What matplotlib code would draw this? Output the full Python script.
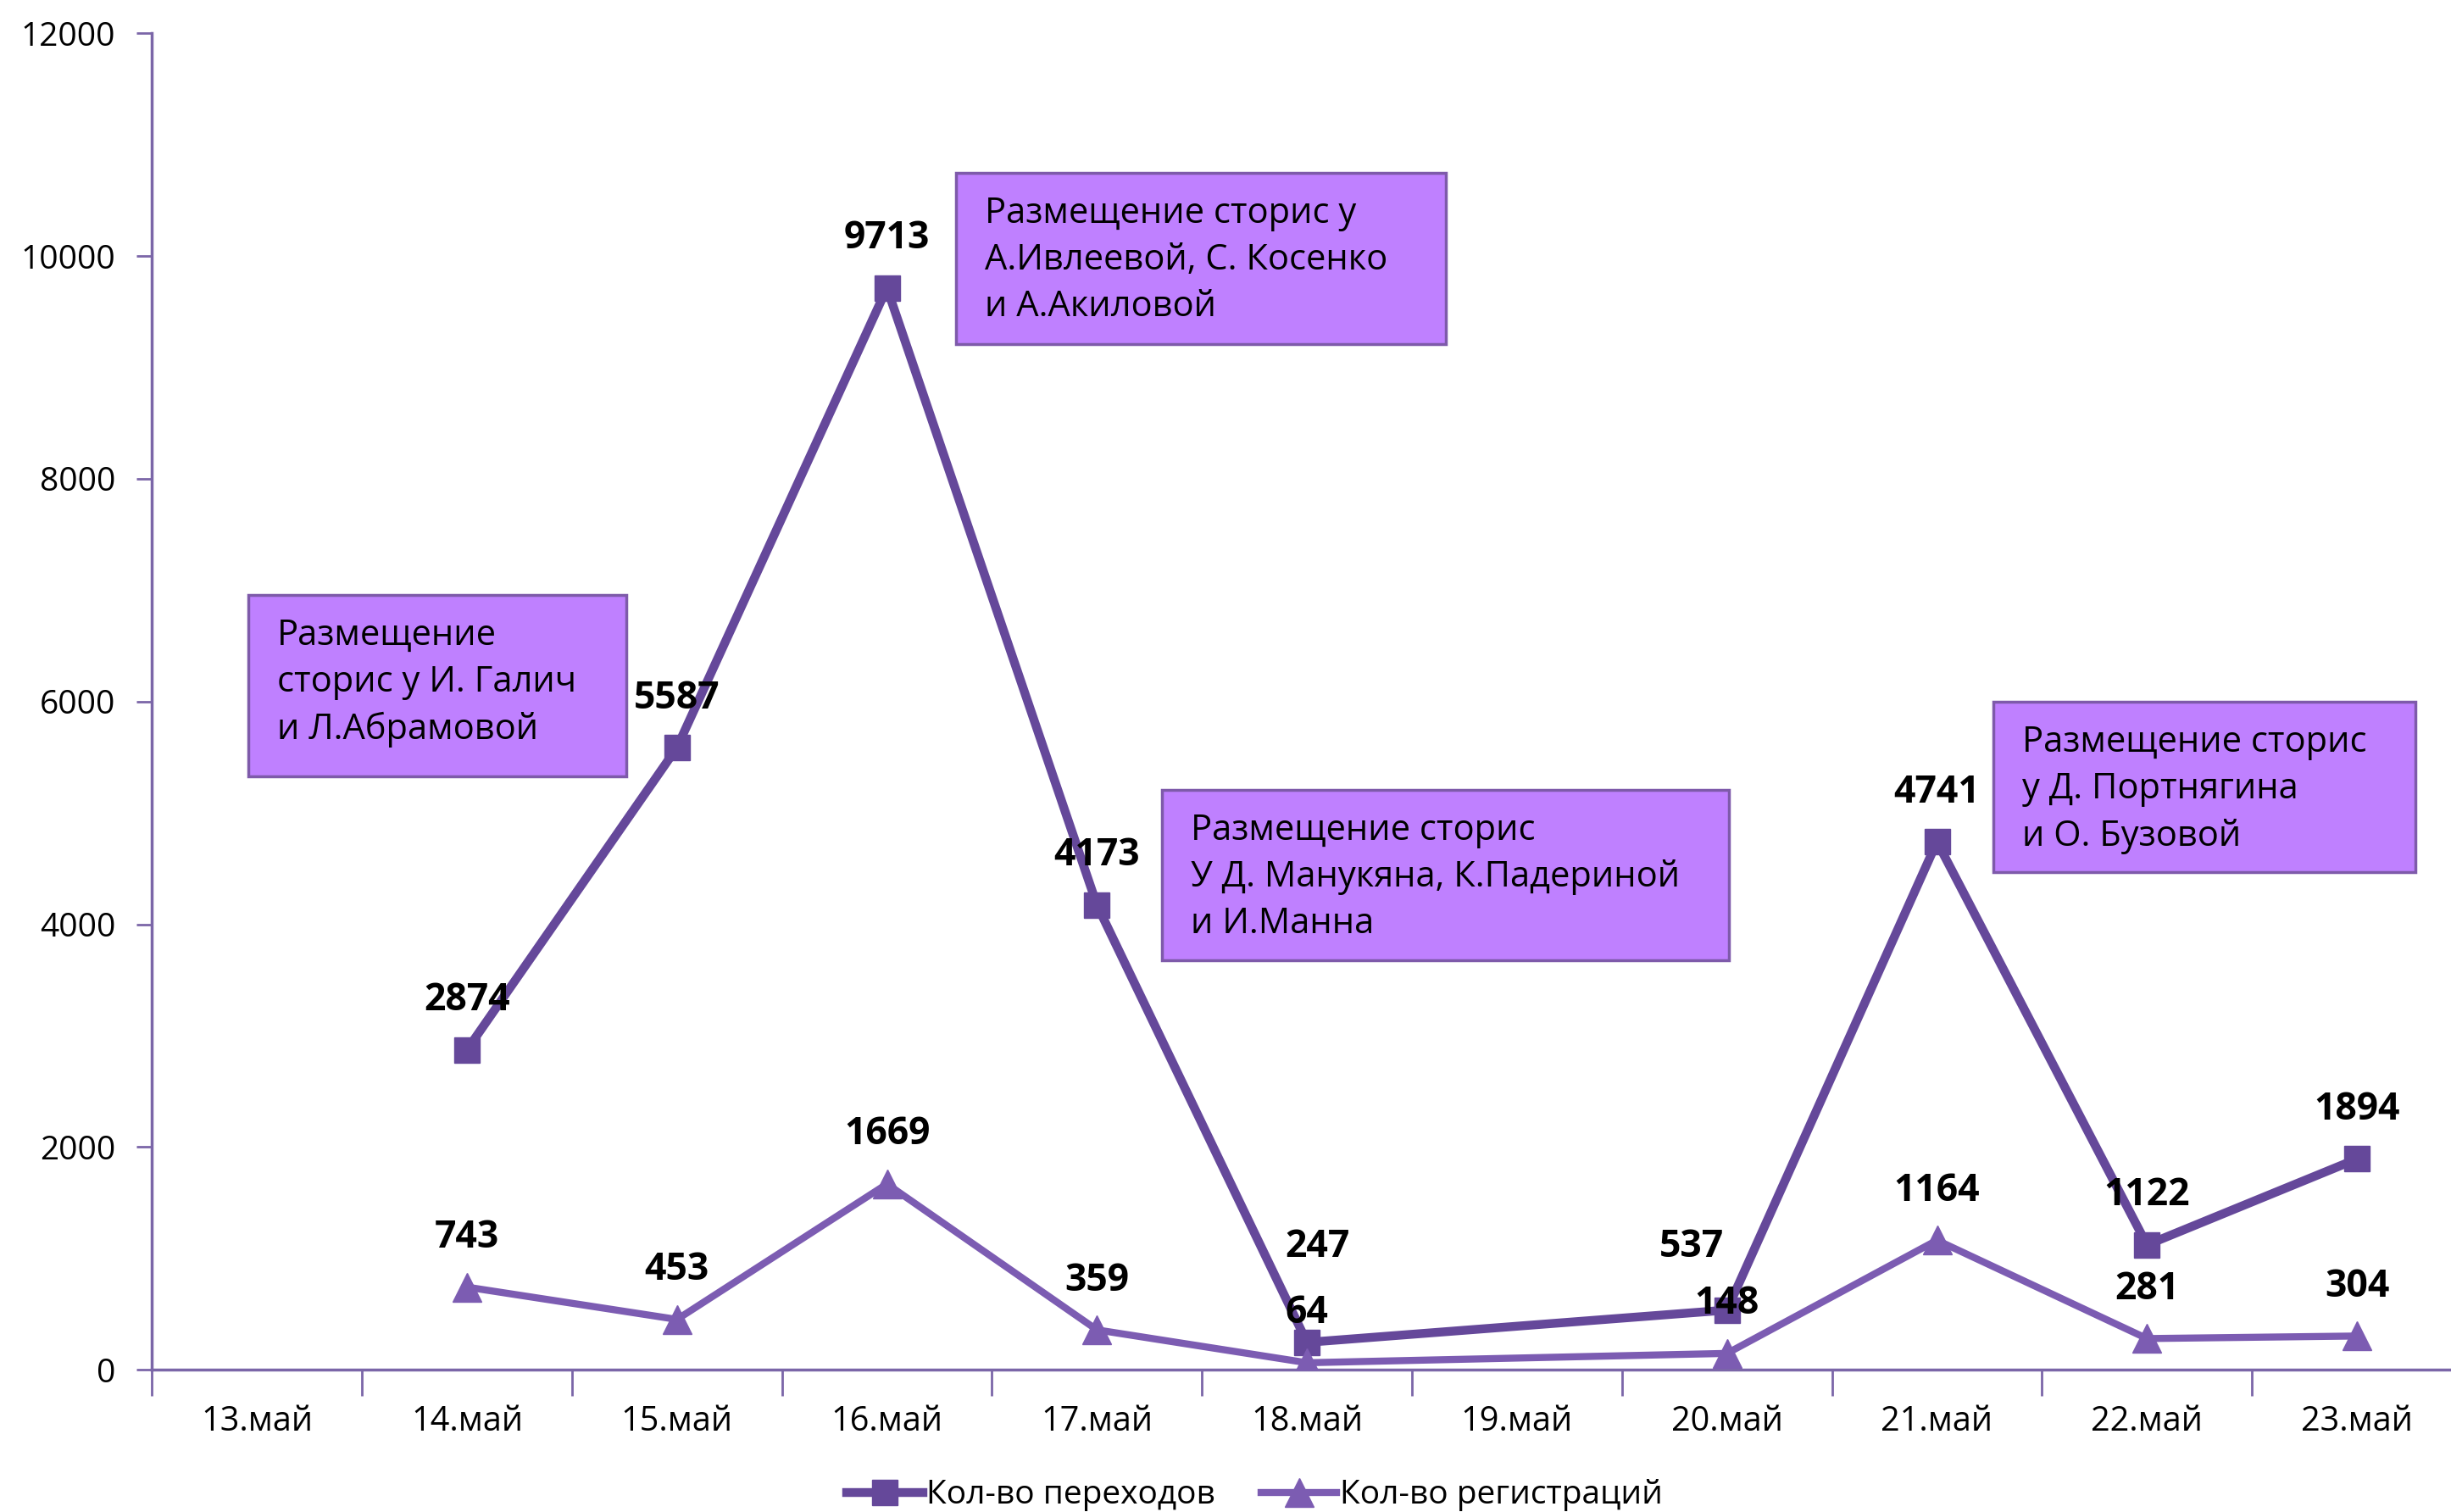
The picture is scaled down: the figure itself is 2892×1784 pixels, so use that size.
import numpy as np
import matplotlib.pyplot as plt
from matplotlib.patches import Rectangle

plt.rcParams['font.family'] = ['Open Sans', 'DejaVu Sans']

# ==========================================
# Data
# ==========================================

dates = ["13.май", "14.май", "15.май", "16.май", "17.май", "18.май",
         "19.май", "20.май", "21.май", "22.май", "23.май"]

transitions = [np.nan, 2874, 5587, 9713, 4173, 247, np.nan, 537, 4741, 1122, 1894]
registrations = [np.nan, 743, 453, 1669, 359, 64, np.nan, 148, 1164, 281, 304]

notes = [
    "Размещение\nсторис у И. Галич\nи Л.Абрамовой",
    "Размещение сторис у\nА.Ивлеевой, С. Косенко\nи А.Акиловой",
    "Размещение сторис\nУ Д. Манукяна, К.Падериной\nи И.Манна",
    "Размещение сторис\nу Д. Портнягина\nи О. Бузовой",
]

# box corners in data units (left, bottom, right, top)
note_boxes = [
    (-0.04, 5330, 1.76, 6960),
    (3.33, 9210, 5.66, 10750),
    (4.31, 3680, 7.01, 5210),
    (8.27, 4470, 10.28, 6000),
]

# ==========================================
# Figure
# ==========================================

c_trans = "#65489A"
c_reg = "#7C5CB2"
spine_col = "#7B66A8"

fig = plt.figure(figsize=(28.92, 17.84), dpi=100)
ax = fig.add_axes([0.062, 0.094, 0.9425, 0.884])

x = np.arange(len(dates))
t = np.array(transitions, dtype=float)
r = np.array(registrations, dtype=float)
mt = ~np.isnan(t)
mr = ~np.isnan(r)

ax.plot(x[mt], t[mt], color=c_trans, lw=7.5, marker="s", ms=21,
        label="Кол-во переходов", zorder=3)
ax.plot(x[mr], r[mr], color=c_reg, lw=6, marker="^", ms=24,
        label="Кол-во регистраций", zorder=3)

# data labels
special = {("t", 5): (12, 112), ("t", 7): (-42, 74)}
for key, xs, ys in (("t", x[mt], t[mt]), ("r", x[mr], r[mr])):
    for xi, yi in zip(xs, ys):
        dx, dy = special.get((key, int(xi)), (0, 58))
        ax.annotate(f"{int(yi)}", (xi, yi), xytext=(dx, dy),
                    textcoords="offset pixels", ha="center", va="center",
                    fontsize=32, fontweight="bold", zorder=5)

# notes
for txt, (l, b, rr, tp) in zip(notes, note_boxes):
    ax.add_patch(Rectangle((l, b), rr - l, tp - b, facecolor="#BF80FF",
                           edgecolor="#7E5AAA", lw=2.5, zorder=4))
    ax.annotate(txt, (l, tp), xytext=(34, -27), textcoords="offset pixels",
                ha="left", va="top", fontsize=30, linespacing=1.42, zorder=5)

# ==========================================
# Axes styling
# ==========================================

ax.set_xlim(-0.5, len(dates) - 0.5)
ax.set_ylim(0, 12000)
ax.set_yticks(range(0, 12001, 2000))
ax.set_xticks(x)
ax.set_xticklabels(dates)
ax.set_xticks(np.arange(-0.5, len(dates), 1), minor=True)

ax.tick_params(axis="y", labelsize=28, length=13, width=2, color=spine_col,
               pad=18)
ax.tick_params(axis="x", which="major", labelsize=28.5, length=0, pad=30)
ax.tick_params(axis="x", which="minor", length=22, width=2, color=spine_col)

for side in ("top", "right"):
    ax.spines[side].set_visible(False)
for side in ("left", "bottom"):
    ax.spines[side].set_color(spine_col)
    ax.spines[side].set_linewidth(2.5)

fig.legend(loc="center", bbox_to_anchor=(0.512, 0.011), ncol=2,
           frameon=False, fontsize=28, handlelength=2.3, columnspacing=1.4,
           handletextpad=0.1)

fig.savefig("out.png", dpi=100)
